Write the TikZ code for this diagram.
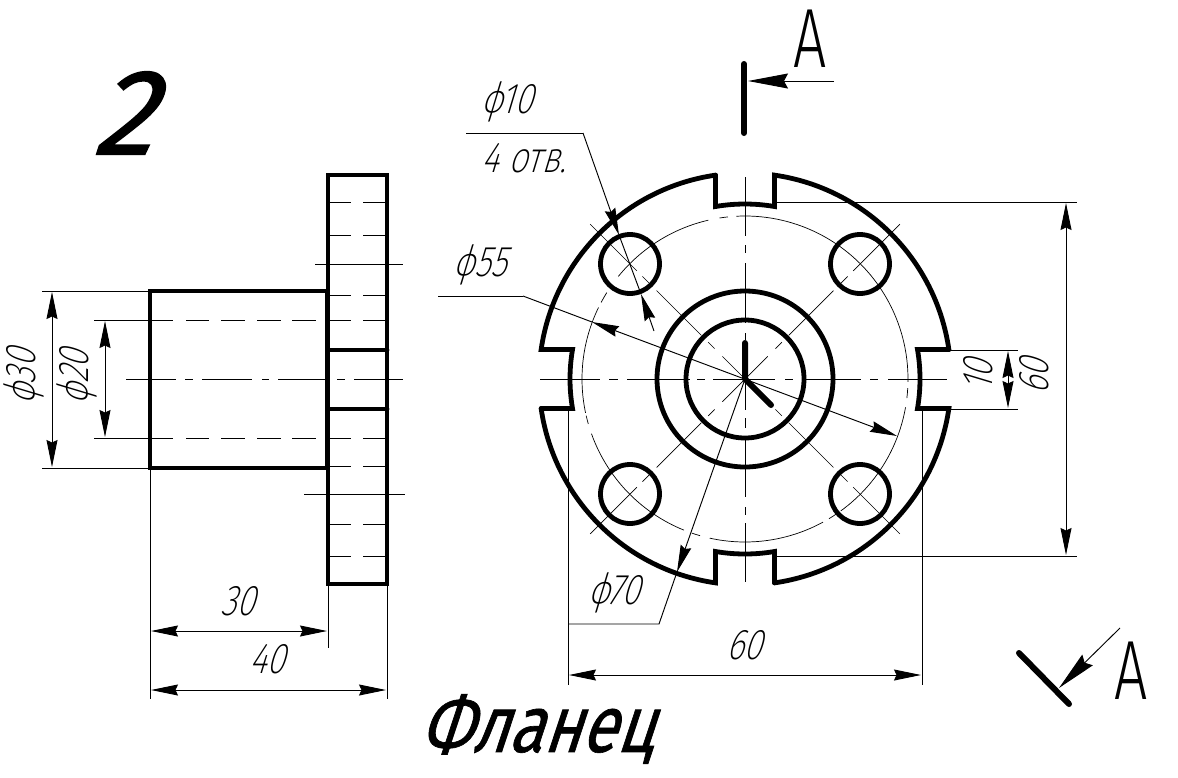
\documentclass[tikz,border=0pt]{standalone}
\usepackage{fontspec}
\usetikzlibrary{arrows.meta}
\setmainfont{Fira Sans}
\newfontfamily\gost[FakeSlant=0.3,FakeStretch=0.78]{Fira Sans ExtraLight}
\newfontfamily\gostb[FakeSlant=0.33,FakeStretch=0.8,FakeBold=0.8]{Fira Sans}
\newfontfamily\gostn[FakeSlant=0.33,FakeStretch=1.0,FakeBold=1.2]{Fira Sans}
\newfontfamily\gostup[FakeStretch=0.7]{Fira Sans Light}
\tikzset{
  x=1pt,y=1pt,
  contour/.style={line width=4.8pt,line cap=round,line join=miter,black},
  heavy/.style={line width=6pt,line cap=round,black},
  thinl/.style={line width=0.95pt,black},
  hair/.style={line width=0.7pt,black},
  dimtip/.tip={Stealth[length=27pt,width=11pt,inset=2.5pt]},
  bigtip/.tip={Stealth[length=40pt,width=15pt,inset=4pt]},
  dim/.style={thinl,{dimtip}-{dimtip}},
  dimend/.style={thinl,-{dimtip}},
  lbl/.style={inner sep=0pt,font=\gost\fontsize{43}{43}\selectfont},
}
\begin{document}
\begin{tikzpicture}
\useasboundingbox (0,-777) rectangle (1178,0);
\fill[white] (0,-777) rectangle (1178,0);
\coordinate (C) at (745,-379);

% ---- front view
\begin{scope}[shift={(C)}]
  \foreach \k in {0,90,180,270}{
    \draw[contour] (\k+8.23:206) arc[start angle=\k+8.23,end angle=\k+81.77,radius=206]
      -- (\k+80.3:175) arc[start angle=\k+80.3,end angle=\k+99.7,radius=175]
      -- (\k+98.23:206);
  }
  \draw[contour] (0,0) circle[radius=88];
  \draw[contour] (0,0) circle[radius=59];
  \foreach \dx/\dy in {-115/115,115/115,-115/-115,115/-115}{
    \draw[contour] (\dx,\dy) circle[radius=29.5];
  }
  % bolt circle, broken as in the drawing
  \foreach \a/\b in {90/-1,-3.2/-6.7,-10/-54,-56/-59,-61.4/-102.5,-106/-109,-112/-160.4,-164/-167,-168/-206,-208/-212,-219/-257,-261/-264,-267/-270}{
    \draw[hair] (\a:163) arc[start angle=\a,end angle=\b,radius=163];
  }
  % diagonal centre lines
  \foreach \t in {45,135,225,315}{
    \foreach \a/\b in {0/32,43/52,62/125,135/145,153/219}{
      \draw[hair] (\t:\a) -- (\t:\b);
    }
  }
\end{scope}
% main centre lines
\foreach \a/\b in {540/600,609/618,627/690,697/705,713/775,785/793,803/861,870/878,888/947}{
  \draw[thinl] (\a,-379) -- (\b,-379);
}
\foreach \a/\b in {177/236,245/253,263/323,333/340,347/410,418/428,438/497,507/515,523/582}{
  \draw[thinl] (745,-\a) -- (745,-\b);
}
\draw[heavy,line join=round] (745,-343) -- (C) -- (771,-405);

% ---- side view
\draw[contour] (150,-291) rectangle (327,-468);
\draw[contour] (328,-175) rectangle (387,-584);
\draw[contour] (328,-350) -- (387,-350);
\draw[contour] (328,-409) -- (387,-409);
\foreach \y in {202,235,295,466,524,556}{
  \draw[thinl] (330,-\y) -- (351,-\y);
  \draw[thinl] (363,-\y) -- (385,-\y);
}
\foreach \y in {320,438}{
  \foreach \a/\b in {94/173,186/209,221/245,257/281,292/316,330/351,363/385}{
    \draw[thinl] (\a,-\y) -- (\b,-\y);
  }
}
\foreach \a/\b in {126/176,185/193,202/252,262/269,278/327,337/345,354/403}{
  \draw[thinl] (\a,-379) -- (\b,-379);
}
\draw[thinl] (315,-264) -- (403,-264);
\draw[thinl] (304,-494) -- (405,-494);

% ---- dimensions, side view
\draw[thinl] (42,-291) -- (150,-291);
\draw[thinl] (42,-468) -- (150,-468);
\draw[dim] (52,-292) -- (52,-467);
\draw[dim] (105,-321) -- (105,-437);
\draw[thinl] (150,-468) -- (150,-699);
\draw[thinl] (328,-584) -- (328,-648);
\draw[thinl] (387,-584) -- (387,-699);
\draw[dim] (151,-631) -- (327,-631);
\draw[dim] (151,-690) -- (386,-690);
\node[lbl,rotate=90] (d30) at (24,-377) {ϕ30};
\node[lbl,rotate=90] (d20) at (77,-377) {ϕ20};
\node[lbl] (l30) at (238,-601) {30};
\node[lbl] (l40) at (267,-659) {40};

% ---- dimensions, front view
\draw[thinl] (775,-202) -- (1077,-202);
\draw[thinl] (775,-556) -- (1077,-556);
\draw[dim] (1066,-203) -- (1066,-555);
\draw[thinl] (950,-350) -- (1018,-350);
\draw[thinl] (950,-409) -- (1018,-409);
\draw[dim] (1008,-351) -- (1008,-408);
\draw[thinl] (568,-408) -- (568,-685);
\draw[thinl] (922,-408) -- (922,-685);
\draw[dim] (569,-675) -- (921,-675);
\node[lbl,rotate=90] (l10) at (978,-376) {10};
\node[lbl,rotate=90] (l60r) at (1034,-377) {60};
\node[lbl] (l60b) at (744,-645) {60};

% leaders
\coordinate (a10) at (466,-133);
\coordinate (b10) at (583,-133);
\coordinate (t1) at (619,-235);
\coordinate (t2) at (641,-294);
\coordinate (e10) at (654,-331);
\draw[thinl] (a10) -- (b10);
\draw[dimend] (b10) -- (t1);
\draw[thinl] (t1) -- (t2);
\draw[dimend] (e10) -- (t2);
\node[lbl] (p10) at (507,-102) {ϕ10};
\node[lbl] (n4) at (524,-158) {4 отв.};

\coordinate (a55) at (438,-296);
\coordinate (b55) at (523,-296);
\coordinate (l55) at (592,-322);
\coordinate (r55) at (897,-436);
\draw[thinl] (a55) -- (b55);
\draw[thinl] (b55) -- (l55);
\draw[dim] (l55) -- (r55);
\node[lbl] (p55) at (480,-265) {ϕ55};

\coordinate (a70) at (569,-624);
\coordinate (b70) at (659,-624);
\coordinate (t70) at (677,-572);
\draw[thinl] (a70) -- (b70) -- (t70);
\draw[dimend] (C) -- (t70);
\node[lbl] (p70) at (614,-593) {ϕ70};

% ---- section marks
\draw[heavy] (744,-64) -- (744,-133);
\coordinate (s1) at (834,-81);
\coordinate (s1t) at (748,-81);
\draw[thinl,-{bigtip}] (s1) -- (s1t);
\node[inner sep=0pt,font=\gostup\fontsize{84}{84}\selectfont] (A1) at (810,-39) {A};
\draw[heavy] (1019,-653) -- (1069,-704);
\coordinate (s2) at (1120,-628);
\coordinate (s2t) at (1059,-688);
\draw[thinl,-{bigtip}] (s2) -- (s2t);
\node[inner sep=0pt,font=\gostup\fontsize{84}{84}\selectfont] (A2) at (1131,-671) {A};

% ---- titles
\node[inner sep=0pt,font=\gostn\fontsize{122}{122}\selectfont] (num) at (122,-113) {2};
\node[inner sep=0pt,font=\gostb\fontsize{80}{80}\selectfont] (title) at (536,-729) {Фланец};
\end{tikzpicture}
\end{document}
